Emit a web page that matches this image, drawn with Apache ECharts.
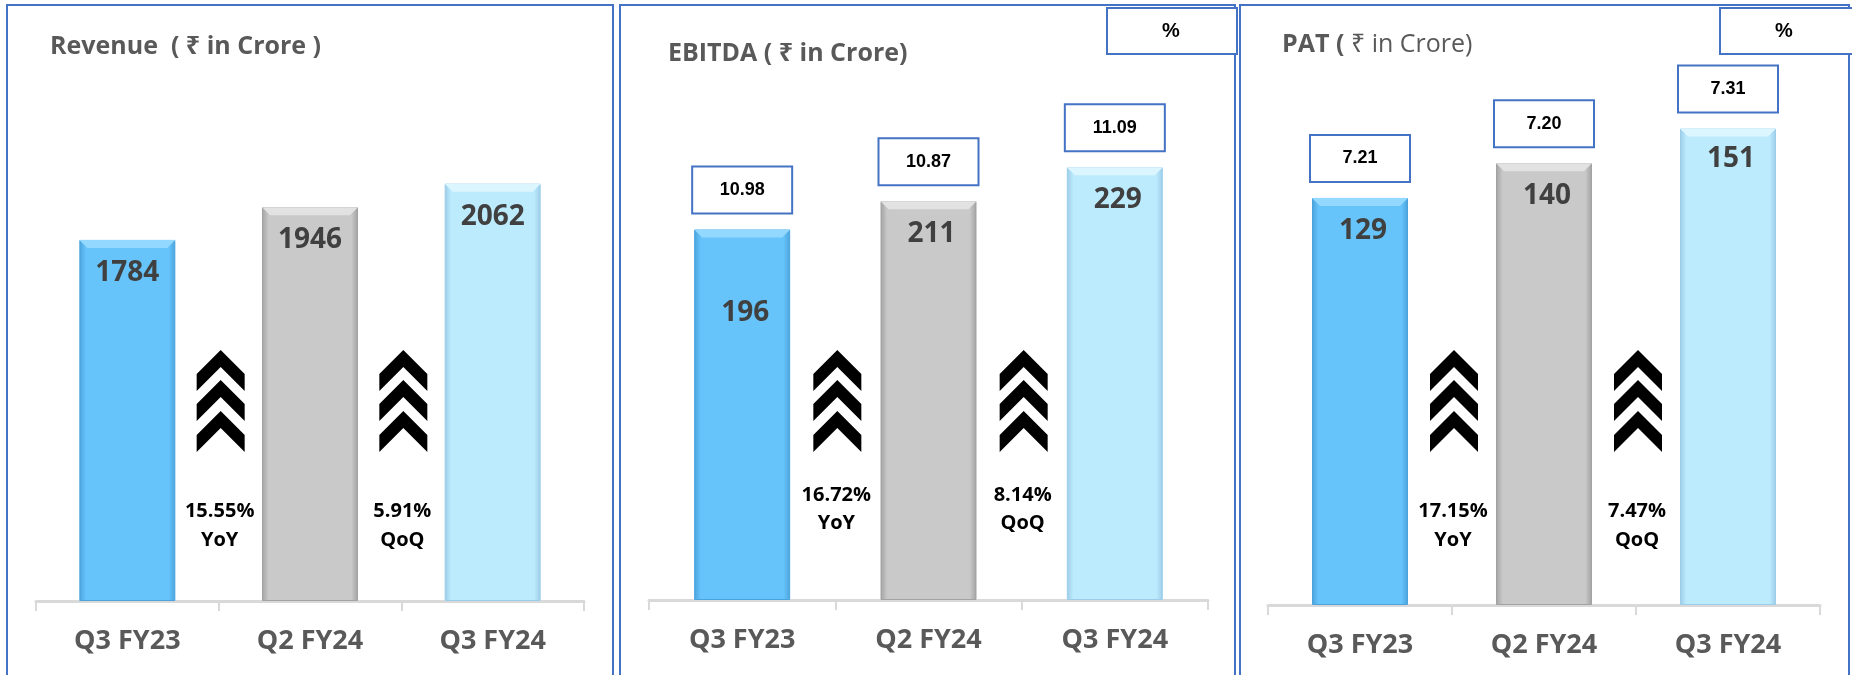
<!DOCTYPE html>
<html>
<head>
<meta charset="utf-8">
<title>Revenue / EBITDA / PAT</title>
<script src="https://cdn.jsdelivr.net/npm/echarts@6/dist/echarts.min.js"></script>
<style>
  html, body { margin: 0; padding: 0; background: #fff; }
  #chart { width: 1852px; height: 675px; }
</style>
</head>
<body>
<div id="chart"></div>
<script>
// ---- data ----
var quarters = ['Q3 FY23', 'Q2 FY24', 'Q3 FY24'];
var revenue = [1784, 1946, 2062];
var ebitda = [196, 211, 229];
var pat = [129, 140, 151];
var ebitdaMargin = ['10.98', '10.87', '11.09'];
var patMargin = ['7.21', '7.20', '7.31'];
var revenueGrowth = ['15.55%', '5.91%'];
var ebitdaGrowth = ['16.72%', '8.14%'];
var patGrowth = ['17.15%', '7.47%'];
var growthTags = ['YoY', 'QoQ'];

// ---- layout / style ----
var BLUE = '#4472C4';
var FONT = '"Open Sans", "Noto Sans", "DejaVu Sans", sans-serif';
var BAR_W = 96;
// edge, body, top bevel
var barFills = [
  ['#4aa3dc', '#67c4fb', '#92d8ff'],
  ['#a2a2a2', '#c9c9c9', '#e2e2e2'],
  ['#9ccde8', '#bdebfe', '#dcf6ff']
];

var panels = [
  {
    values: revenue, margins: null, growth: revenueGrowth, yMax: 2500,
    grid: { left: 36, width: 548, top: 95, bottom: 74 },
    frame: { x: 7, width: 606 },
    title: { left: 50, top: 32, text: '{b|Revenue  ( ₹ in Crore )}' },
    labelGap: [19, 19, 19], labelShift: 0, growthY: [511, 540], pctBox: null
  },
  {
    values: ebitda, margins: ebitdaMargin, growth: ebitdaGrowth, yMax: 300,
    grid: { left: 649, width: 559, top: 33, bottom: 75 },
    frame: { x: 620, width: 615 },
    title: { left: 668, top: 39, text: '{b|EBITDA ( ₹ in Crore)}' },
    labelGap: [69, 19, 19], labelShift: 3, growthY: [495, 523],
    pctBox: { x: 1107, width: 130, textX: 1171 }
  },
  {
    values: pat, margins: patMargin, growth: patGrowth, yMax: 180,
    grid: { left: 1268, width: 552, top: 37, bottom: 70 },
    frame: { x: 1240, width: 609 },
    title: { left: 1282, top: 30, text: '{b|PAT (}{r| ₹ in Crore)}' },
    labelGap: [19, 19, 17], labelShift: 3, growthY: [511, 540],
    pctBox: { x: 1720, width: 140, textX: 1784 }
  }
];

function barFill(c) {
  return new echarts.graphic.LinearGradient(0, 0, 1, 0, [
    { offset: 0, color: c[0] },
    { offset: 0.07, color: c[1] },
    { offset: 0.93, color: c[1] },
    { offset: 1, color: c[0] }
  ]);
}

// light bevel on top of each bar, placed through the axes
function bevel(params, api) {
  var top = api.coord([api.value(0), api.value(1)]);
  var h = BAR_W / 2;
  return {
    type: 'polygon',
    shape: { points: [[top[0] - h, top[1]], [top[0] + h, top[1]], [top[0] + h - 8, top[1] + 8], [top[0] - h + 8, top[1] + 8]] },
    style: { fill: barFills[params.dataIndex][2] }
  };
}

var chart = echarts.init(document.getElementById('chart'));

var grids = [], xAxes = [], yAxes = [], series = [], titles = [];

panels.forEach(function (p, i) {
  grids.push(p.grid);
  titles.push({
    left: p.title.left, top: p.title.top, padding: 0,
    text: p.title.text,
    textStyle: {
      rich: {
        b: { fontFamily: FONT, fontSize: 25, fontWeight: 'bold', color: '#595959', lineHeight: 30 },
        r: { fontFamily: FONT, fontSize: 25, fontWeight: 'normal', color: '#595959', lineHeight: 30 }
      }
    }
  });
  xAxes.push({
    type: 'category', gridIndex: i, data: quarters,
    axisLine: { lineStyle: { color: '#d9d9d9', width: 3 } },
    axisTick: { show: true, length: 10, lineStyle: { color: '#d9d9d9', width: 2 } },
    axisLabel: { margin: 27, fontFamily: FONT, fontSize: 27, fontWeight: 'bold', color: '#595959' }
  });
  yAxes.push({
    type: 'value', gridIndex: i, min: 0, max: p.yMax, show: false,
    splitLine: { show: false }
  });

  series.push({
    type: 'bar', xAxisIndex: i, yAxisIndex: i, barWidth: BAR_W, barGap: '-100%',
    data: p.values.map(function (v, k) {
      return {
        value: v,
        itemStyle: { color: barFill(barFills[k]), borderColor: barFills[k][0], borderWidth: 1 },
        label: { distance: p.labelGap[k] }
      };
    }),
    label: {
      show: true, position: 'insideTop', offset: [p.labelShift, 0],
      fontFamily: FONT, fontSize: 28, fontWeight: 'bold', color: '#404040'
    },
    silent: true
  });

  series.push({
    type: 'custom', xAxisIndex: i, yAxisIndex: i, silent: true, z: 3,
    data: p.values.map(function (v, k) { return [k, v]; }),
    renderItem: bevel
  });

  if (p.margins) {
    series.push({
      type: 'bar', xAxisIndex: i, yAxisIndex: i, barWidth: BAR_W, barGap: '-100%',
      data: p.values,
      itemStyle: { color: 'transparent' },
      label: {
        show: true, position: 'top', distance: 17,
        formatter: (function (m) { return function (d) { return m[d.dataIndex]; }; })(p.margins),
        backgroundColor: '#fff', borderColor: BLUE, borderWidth: 2,
        width: 98, height: 45, lineHeight: 45, align: 'center', padding: 0,
        fontFamily: '"Liberation Sans", Arial, sans-serif', fontSize: 18, fontWeight: 'bold', color: '#000'
      },
      silent: true
    });
  }
});

chart.setOption({
  backgroundColor: '#fff',
  animation: false,
  title: titles,
  grid: grids,
  xAxis: xAxes,
  yAxis: yAxes,
  series: series
});

// ---- decorations: frames, % boxes, growth chevrons ----
function chevrons(cx, top) {
  var pts = [[0, 0], [24, 24], [24, 41], [0, 17], [-24, 41], [-24, 24]];
  return [0, 30, 61].map(function (dy) {
    return {
      type: 'polygon',
      shape: { points: pts.map(function (q) { return [cx + q[0], top + dy + q[1]]; }) },
      style: { fill: '#000' }
    };
  });
}

var graphics = [];
panels.forEach(function (p, i) {
  graphics.push({
    type: 'rect', z: 10,
    shape: { x: p.frame.x, y: 5, width: p.frame.width, height: 720 },
    style: { fill: 'none', stroke: BLUE, lineWidth: 2 }
  });
  if (p.pctBox) {
    graphics.push({
      type: 'rect', z: 10,
      shape: { x: p.pctBox.x, y: 8, width: p.pctBox.width, height: 46 },
      style: { fill: '#fff', stroke: BLUE, lineWidth: 2 }
    });
    graphics.push({
      type: 'text', z: 11, x: p.pctBox.textX, y: 31,
      style: {
        text: '%', fill: '#000', fontFamily: '"Liberation Sans", Arial, sans-serif',
        fontSize: 20, fontWeight: 'bold', align: 'center', verticalAlign: 'middle'
      }
    });
  }
  p.growth.forEach(function (g, k) {
    var a = chart.convertToPixel({ gridIndex: i }, [k, 0]);
    var b = chart.convertToPixel({ gridIndex: i }, [k + 1, 0]);
    var mid = (a[0] + b[0]) / 2;
    chevrons(mid + 2, 350).forEach(function (el) { graphics.push(el); });
    [g, growthTags[k]].forEach(function (t, j) {
      graphics.push({
        type: 'text', x: mid + 1, y: p.growthY[j],
        style: {
          text: t, fill: '#000', fontFamily: FONT, fontSize: 20, fontWeight: 'bold',
          align: 'center', verticalAlign: 'middle'
        }
      });
    });
  });
});

chart.setOption({ graphic: graphics });
</script>
</body>
</html>
